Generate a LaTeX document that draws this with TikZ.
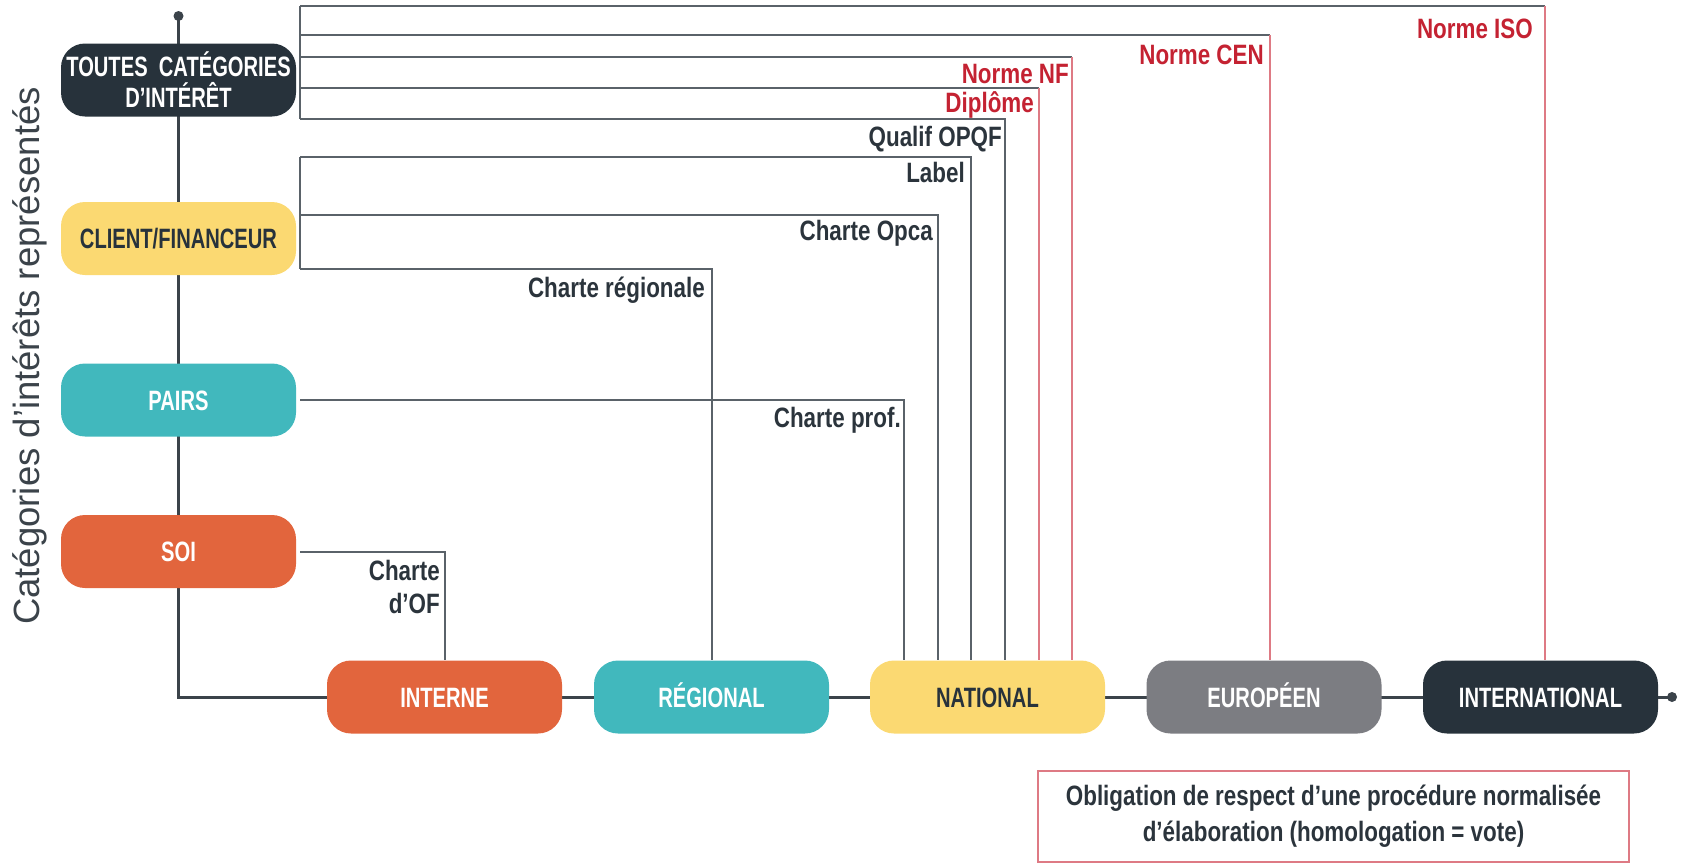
\documentclass[tikz,border=0pt]{standalone}
\usepackage{fontspec}
\setmainfont{Liberation Sans}
\newfontfamily\nodefont{Liberation Sans Bold}[FakeStretch=0.72]
\newfontfamily\lblfont{Liberation Sans Bold}[FakeStretch=0.80]
\newfontfamily\axisfont{Liberation Sans}
\definecolor{cNavy}{HTML}{27323B}
\definecolor{cSun}{HTML}{FBD972}
\definecolor{cTeal}{HTML}{41B8BD}
\definecolor{cOrange}{HTML}{E2653D}
\definecolor{cGray}{HTML}{7C7D82}
\definecolor{cRedT}{HTML}{C42232}
\definecolor{cRedL}{HTML}{DE7A84}
\definecolor{cLine}{HTML}{5A6269}
\definecolor{cAxis}{HTML}{3B434A}
\definecolor{cText}{HTML}{2B343C}
\tikzset{
  cat/.style={rectangle, rounded corners=24pt, minimum width=235pt, minimum height=73pt,
    inner sep=0pt, font=\nodefont\fontsize{28}{31}\selectfont, text=white, align=center},
  one/.style={text height=20pt, text depth=0pt},
  lbl/.style={inner sep=0pt, font=\lblfont\fontsize{28}{33}\selectfont, text=cText},
  rlbl/.style={lbl, text=cRedT},
  gline/.style={draw=cLine, line width=2pt},
  rline/.style={draw=cRedL, line width=2.2pt},
  axisline/.style={draw=cAxis, line width=3pt},
}
\begin{document}
\begin{tikzpicture}[x=1pt,y=-1pt]
\useasboundingbox (0,0) rectangle (1686,865);
% axis
\coordinate (top) at (178.5,16);
\coordinate (axc) at (178.5,697);
\coordinate (rdot) at (1672,697);
\draw[axisline] (top) -- (axc) -- (rdot);
\fill[cAxis] (top) circle (5pt);
\fill[cAxis] (rdot) circle (5pt);
% category nodes
\node[cat, fill=cNavy] (toutes) at (178.5,80) {TOUTES\ \ CATÉGORIES\\D’INTÉRÊT};
\node[cat, one, fill=cSun, text=cNavy] (client) at (178.5,238.5) {CLIENT/FINANCEUR};
\node[cat, one, fill=cTeal] (pairs) at (178.5,400) {PAIRS};
\node[cat, one, fill=cOrange] (soi) at (178.5,551.5) {SOI};
% level nodes
\node[cat, one, fill=cOrange] (interne) at (444.5,697) {INTERNE};
\node[cat, one, fill=cTeal] (regional) at (711.5,697) {RÉGIONAL};
\node[cat, one, fill=cSun, text=cNavy] (national) at (987.5,697) {NATIONAL};
\node[cat, one, fill=cGray] (europeen) at (1264,697) {EUROPÉEN};
\node[cat, one, fill=cNavy] (intl) at (1540.5,697) {INTERNATIONAL};
% top bracket
\coordinate (b1) at (300,6);
\coordinate (b2) at (300,35);
\coordinate (b3) at (300,57);
\coordinate (b4) at (300,88);
\coordinate (b5) at (300,119);
\coordinate (cISO) at (1545,6);
\coordinate (cCEN) at (1270,35);
\coordinate (cNF) at (1072,57);
\coordinate (cDip) at (1039,88);
\coordinate (cOPQF) at (1005,119);
\draw[gline] (b1) -- (b5);
\draw[gline] (b1) -- (cISO);
\draw[gline] (b2) -- (cCEN);
\draw[gline] (b3) -- (cNF);
\draw[gline] (b4) -- (cDip);
\draw[gline] (b5) -- (cOPQF) -- (cOPQF |- national.north);
\draw[rline] (cISO) -- (cISO |- intl.north);
\draw[rline] (cCEN) -- (cCEN |- europeen.north);
\draw[rline] (cNF) -- (cNF |- national.north);
\draw[rline] (cDip) -- (cDip |- national.north);
% client bracket
\coordinate (k1) at (300,157);
\coordinate (k2) at (300,215);
\coordinate (k3) at (300,269);
\coordinate (cLab) at (971,157);
\coordinate (cOpca) at (938,215);
\coordinate (cReg) at (711.5,269);
\draw[gline] (k1) -- (k3);
\draw[gline] (k1) -- (cLab) -- (cLab |- national.north);
\draw[gline] (k2) -- (cOpca) -- (cOpca |- national.north);
\draw[gline] (k3) -- (cReg) -- (regional.north);
% pairs and soi
\coordinate (pS) at (300,400);
\coordinate (cProf) at (904,400);
\draw[gline] (pS) -- (cProf) -- (cProf |- national.north);
\coordinate (sS) at (300,552);
\coordinate (cOF) at (444.5,552);
\draw[gline] (sS) -- (cOF) -- (interne.north);
% labels
\node[rlbl, anchor=base east] (tISO) at (1533,38) {Norme ISO};
\node[rlbl, anchor=base east] (tCEN) at (1264,64) {Norme CEN};
\node[rlbl, anchor=base east] (tNF) at (1069,83) {Norme NF};
\node[rlbl, anchor=base east] (tDip) at (1034,112) {Diplôme};
\node[lbl, anchor=base east] (tOPQF) at (1002,146) {Qualif OPQF};
\node[lbl, anchor=base east] (tLab) at (965,182) {Label};
\node[lbl, anchor=base east] (tOpca) at (933,240) {Charte Opca};
\node[lbl, anchor=base east] (tReg) at (705,297) {Charte régionale};
\node[lbl, anchor=base east] (tProf) at (901,427) {Charte prof.};
\node[lbl, anchor=north east, align=right] (tOF) at (440,560) {Charte\\d’OF};
% axis label
\node[rotate=90, font=\axisfont\fontsize{36.5}{40}\selectfont, text=cAxis] (ylab) at (30,356) {Catégories d’intérêts représentés};
% note box
\node[draw=cRedL, line width=2pt, minimum width=591pt, minimum height=91pt, inner sep=0pt,
  align=center, font=\lblfont\fontsize{28}{36}\selectfont, text=cText] (note) at (1333.5,816.5)
  {Obligation de respect d’une procédure normalisée\\d’élaboration (homologation = vote)};
\end{tikzpicture}
\end{document}
